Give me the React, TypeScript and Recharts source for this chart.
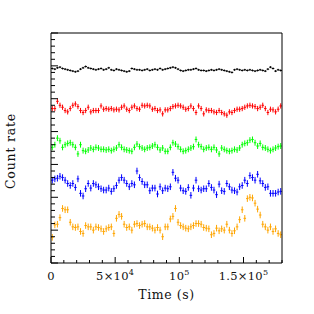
import { ScatterChart, Scatter, XAxis, YAxis, ErrorBar } from 'recharts';

// bin centres (s), 2000 s bins
const times = Array.from({ length: 90 }, (_, i) => 1000 + 2000 * i);
const binHalfWidth = 1000;

const black = [
  29.6, 29.5, 29.7, 29.8, 29.6, 29.5, 29.4, 29.3, 29.2, 29.1,
  29.2, 29.5, 29.7, 29.9, 29.7, 29.6, 29.5, 29.4, 29.5, 29.6,
  29.4, 29.5, 29.7, 29.4, 29.3, 29.5, 29.4, 29.3, 29.2, 29.1,
  29.2, 29.6, 29.5, 29.4, 29.4, 29.3, 29.4, 29.5, 29.3, 29.4,
  29.5, 29.4, 29.6, 29.4, 29.5, 29.6, 29.7, 29.8, 29.7, 29.5,
  29.3, 29.2, 29.3, 29.4, 29.4, 29.5, 29.6, 29.4, 29.3, 29.3,
  29.2, 29.3, 29.4, 29.3, 29.4, 29.5, 29.4, 29.3, 29.2, 29.1,
  29.0, 29.4, 29.5, 29.4, 29.3, 29.4, 29.3, 29.4, 29.3, 29.2,
  29.3, 29.4, 29.3, 29.2, 29.5, 29.8, 29.6, 29.2, 29.4, 29.3,
];

const red = [
  23.5, 23.5, 24.6, 24.0, 23.7, 23.2, 23.0, 23.5, 24.0, 24.2,
  23.8, 23.2, 22.9, 23.2, 23.7, 23.0, 23.2, 23.2, 23.2, 23.9,
  23.4, 23.5, 23.4, 23.5, 23.3, 23.4, 23.3, 23.7, 23.9, 23.4,
  23.2, 23.7, 23.9, 23.5, 23.4, 24.0, 23.9, 24.0, 23.9, 23.4,
  23.5, 23.2, 23.3, 22.7, 23.3, 23.3, 23.5, 23.8, 23.9, 24.0,
  23.9, 23.7, 23.4, 23.5, 23.9, 23.5, 22.9, 23.9, 23.5, 22.7,
  23.3, 23.2, 23.2, 23.0, 22.9, 23.2, 22.9, 22.7, 22.5, 23.0,
  22.9, 23.2, 23.4, 23.4, 23.5, 23.7, 23.9, 24.0, 23.9, 23.8,
  23.5, 23.7, 24.0, 23.5, 22.9, 23.4, 23.3, 23.0, 23.4, 23.9,
];

const green = [
  17.6, 18.0, 19.0, 18.6, 17.6, 18.0, 18.2, 18.3, 18.0, 17.6,
  16.6, 18.0, 17.1, 17.0, 17.2, 17.5, 17.3, 17.6, 17.5, 17.3,
  17.3, 17.2, 17.3, 17.1, 17.3, 17.5, 18.0, 17.6, 17.3, 17.2,
  17.1, 17.0, 17.6, 18.1, 17.7, 17.5, 17.3, 17.5, 17.6, 17.8,
  18.0, 17.6, 17.2, 17.5, 17.0, 17.0, 17.6, 18.3, 18.1, 17.7,
  17.3, 17.0, 17.1, 17.3, 17.5, 17.7, 18.8, 18.0, 17.7, 17.3,
  17.5, 17.6, 17.3, 17.6, 17.2, 16.6, 17.5, 17.3, 17.1, 17.0,
  17.1, 17.3, 17.2, 17.5, 18.0, 18.2, 18.3, 18.7, 18.8, 18.3,
  17.8, 18.2, 17.6, 17.5, 17.3, 17.1, 17.3, 17.5, 17.7, 17.8,
];

const blue = [
  12.6, 12.8, 12.9, 13.2, 13.0, 12.6, 12.1, 11.8, 12.1, 11.5,
  12.8, 10.6, 10.2, 11.3, 12.1, 11.4, 12.1, 11.9, 11.6, 11.3,
  11.1, 11.1, 11.4, 10.9, 11.3, 11.8, 12.6, 13.0, 12.6, 12.1,
  11.6, 12.1, 11.9, 14.0, 13.0, 12.4, 11.9, 11.9, 11.0, 11.4,
  11.4, 10.5, 11.6, 11.0, 11.4, 11.3, 11.6, 13.8, 12.9, 12.6,
  11.4, 11.0, 10.9, 11.5, 10.3, 11.4, 12.6, 11.3, 11.1, 11.3,
  11.3, 12.1, 11.5, 11.1, 10.4, 12.0, 11.0, 10.9, 12.1, 11.6,
  11.1, 11.0, 10.8, 11.6, 11.8, 12.6, 12.1, 13.3, 13.0, 12.6,
  13.5, 12.5, 12.1, 11.5, 11.6, 10.6, 10.6, 10.6, 10.8, 10.9,
];

const orange = [
  3.9, 5.8, 5.9, 6.9, 8.3, 8.1, 8.1, 6.2, 5.5, 5.4,
  5.5, 4.8, 4.5, 5.7, 5.5, 5.5, 5.0, 5.5, 5.4, 5.2,
  4.8, 5.2, 5.4, 5.5, 4.5, 6.8, 7.4, 7.1, 5.9, 5.4,
  5.5, 5.0, 5.9, 6.0, 5.7, 5.9, 6.0, 5.5, 5.5, 5.3,
  5.0, 5.4, 5.0, 4.0, 5.5, 5.5, 6.7, 7.1, 8.3, 6.2,
  5.7, 5.5, 5.3, 5.2, 5.5, 5.7, 6.0, 6.0, 5.9, 5.4,
  5.3, 5.2, 4.3, 4.5, 5.3, 4.9, 5.2, 5.0, 5.9, 5.0,
  4.5, 4.9, 5.5, 6.6, 8.1, 6.8, 9.8, 10.0, 9.9, 9.1,
  8.2, 7.3, 5.9, 5.5, 5.0, 5.5, 4.8, 5.2, 4.5, 4.3,
];

const xTicks = Array.from({ length: 19 }, (_, i) => i * 10000);
const yTicks = Array.from({ length: 36 }, (_, i) => i);

const series = [
  { name: 'black', values: black, err: 0.15, color: '#000000' },
  { name: 'red', values: red, err: 0.4, color: '#ff0000' },
  { name: 'green', values: green, err: 0.45, color: '#00ff00' },
  { name: 'blue', values: blue, err: 0.5, color: '#0000ff' },
  { name: 'orange', values: orange, err: 0.5, color: '#ffa500' },
];

const FONT = '"DejaVu Serif", serif';

function xLabel(v: number) {
  if (v === 0) return <tspan>0</tspan>;
  if (v === 50000) return (<><tspan>5×10</tspan><tspan dy={-5} fontSize={8}>4</tspan></>);
  if (v === 100000) return (<><tspan>10</tspan><tspan dy={-5} fontSize={8}>5</tspan></>);
  if (v === 150000) return (<><tspan>1.5×10</tspan><tspan dy={-5} fontSize={8}>5</tspan></>);
  return null;
}

function BottomTick({ x, y, payload }: any) {
  const major = payload.value % 50000 === 0;
  return (
    <g>
      <line x1={x} y1={y} x2={x} y2={y - (major ? 6 : 3)} stroke="#000" />
      {major && (
        <text x={x} y={y + 17} textAnchor="middle" fontFamily={FONT} fontSize={11.5} letterSpacing={0.3} fill="#111">
          {xLabel(payload.value)}
        </text>
      )}
    </g>
  );
}

function TopTick({ x, y, payload }: any) {
  const major = payload.value % 50000 === 0;
  return <line x1={x} y1={y} x2={x} y2={y + (major ? 6 : 3)} stroke="#000" />;
}

function LeftTick({ x, y, payload }: any) {
  const major = payload.value % 5 === 0;
  return <line x1={x} y1={y} x2={x + (major ? 7 : 4)} y2={y} stroke="#000" />;
}

function RightTick({ x, y, payload }: any) {
  const major = payload.value % 5 === 0;
  return <line x1={x} y1={y} x2={x - (major ? 7 : 4)} y2={y} stroke="#000" />;
}

function XTitle({ viewBox }: any) {
  return (
    <text x={viewBox.x + viewBox.width / 2} y={viewBox.y + 36} textAnchor="middle" fontFamily={FONT} fontSize={12.5} letterSpacing={0.6} fill="#111">
      Time (s)
    </text>
  );
}

function YTitle({ viewBox }: any) {
  const cx = 10;
  const cy = viewBox.y + viewBox.height / 2 + 3;
  return (
    <text x={cx} y={cy} transform={`rotate(-90 ${cx} ${cy})`} textAnchor="middle" dominantBaseline="central" fontFamily={FONT} fontSize={12.5} letterSpacing={0.8} fill="#111">
      Count rate
    </text>
  );
}

const NoDot = () => <g />;

export default function App() {
  return (
    <div style={{ position: 'absolute', left: 0, top: 0, width: 314, height: 314, background: '#fff' }}>
      <ScatterChart width={314} height={314} margin={{ top: 0, right: 0, bottom: 0, left: 0 }}>
        <XAxis
          xAxisId="b"
          type="number"
          dataKey="t"
          orientation="bottom"
          domain={[0, 180000]}
          ticks={xTicks}
          interval={0}
          height={51}
          tickSize={0}
          tickMargin={0}
          tickLine={false}
          axisLine={{ stroke: '#000' }}
          tick={BottomTick}
          label={{ content: XTitle }}
        />
        <XAxis
          xAxisId="t"
          type="number"
          orientation="top"
          domain={[0, 180000]}
          ticks={xTicks}
          interval={0}
          height={33}
          tickSize={0}
          tickMargin={0}
          tickLine={false}
          axisLine={{ stroke: '#000' }}
          tick={TopTick}
        />
        <YAxis
          yAxisId="l"
          type="number"
          dataKey="v"
          orientation="left"
          domain={[0, 35]}
          ticks={yTicks}
          interval={0}
          width={51}
          tickSize={0}
          tickMargin={0}
          tickLine={false}
          axisLine={{ stroke: '#000' }}
          tick={LeftTick}
          label={{ content: YTitle }}
        />
        <YAxis
          yAxisId="r"
          type="number"
          orientation="right"
          domain={[0, 35]}
          ticks={yTicks}
          interval={0}
          width={32}
          tickSize={0}
          tickMargin={0}
          tickLine={false}
          axisLine={{ stroke: '#000' }}
          tick={RightTick}
        />
        {series.map((s) => (
          <Scatter
            key={s.name}
            xAxisId="b"
            yAxisId="l"
            data={s.values.map((v, i) => ({ t: times[i], v, ex: binHalfWidth, ey: s.err }))}
            shape={NoDot}
            isAnimationActive={false}
          >
            <ErrorBar dataKey="ey" direction="y" width={0} stroke={s.color} strokeWidth={1} />
            <ErrorBar dataKey="ex" direction="x" width={0} stroke={s.color} strokeWidth={1} />
          </Scatter>
        ))}
      </ScatterChart>
    </div>
  );
}
